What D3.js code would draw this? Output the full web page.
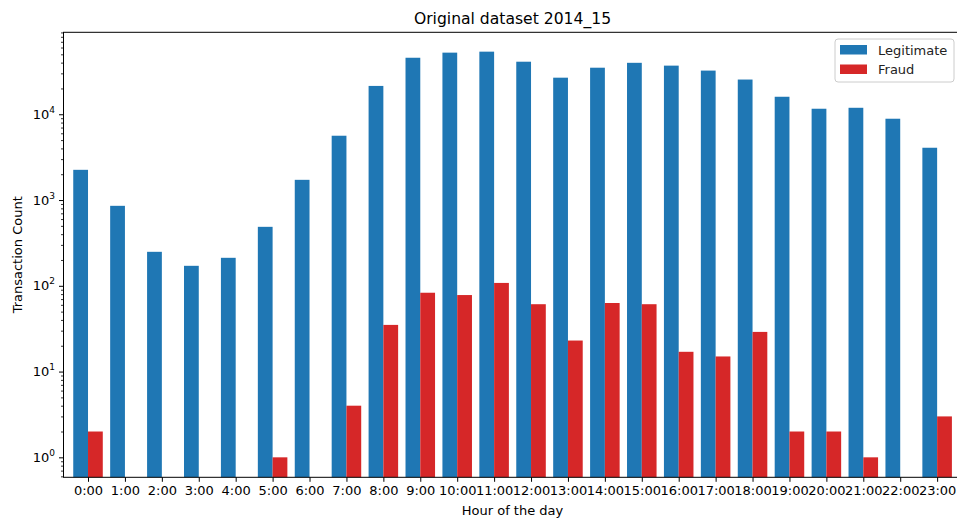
<!DOCTYPE html>
<html>
<head>
<meta charset="utf-8">
<script src="https://cdn.jsdelivr.net/npm/d3@7"></script>
<style>
  body { margin: 0; background: #fff; }
  svg { font-family: "DejaVu Sans", sans-serif; display: block; }
</style>
</head>
<body>
<div id="chart"></div>
<script>
// hours of the day
let hours = d3.range(24).map(h => h + ":00")
// counts
let legitimate = [2250, 856, 249, 171, 212, 487, 1720, 5620, 21400, 45600, 52300, 53700,
                  41000, 26700, 34900, 39800, 36900, 32300, 25400, 16000, 11600, 11900, 8870, 4070]
let fraud = [2, 0, 0, 0, 0, 1, 0, 4, 35, 83, 78, 108,
             61, 23, 63, 61, 17, 15, 29, 2, 2, 1, 0, 3]
let seriesNames = ["Legitimate", "Fraud"]
let seriesColors = ["#1f77b4", "#d62728"]
let yMajor = [1, 10, 100, 1000, 10000]

// note: "top" is taken by window.top, so plot edges get their own names
const W = 957, H = 520
const plotL = 63.5, plotR = 961.5, plotT = 32.3, plotB = 477.3

var svg = d3.select("#chart")
    .append("svg")
        .attr("width", W)
        .attr("height", H)

let xScale = d3.scaleLinear()
    .domain([-0.664, 23.66])
    .range([plotL, plotR])

let yScale = d3.scaleLog()
    .domain([0.585, 90300])
    .range([plotB, plotT])

let barW = 0.4

// legitimate bars
svg.append("g").selectAll("rect")
    .data(legitimate)
    .enter()
    .append("rect")
        .attr("x", (d, i) => xScale(i - barW))
        .attr("width", xScale(barW) - xScale(0))
        .attr("y", d => yScale(d))
        .attr("height", d => plotB - yScale(d))
        .attr("fill", seriesColors[0])

// fraud bars (zero counts are not drawn on log scale)
svg.append("g").selectAll("rect")
    .data(fraud.map((v, i) => ({v: v, i: i})).filter(d => d.v > 0))
    .enter()
    .append("rect")
        .attr("x", d => xScale(d.i))
        .attr("width", xScale(barW) - xScale(0))
        .attr("y", d => yScale(d.v))
        .attr("height", d => plotB - yScale(d.v))
        .attr("fill", seriesColors[1])

// x axis
let xAxis = svg.append("g")
    .attr("transform", `translate(0,${plotB})`)
    .call(d3.axisBottom(xScale)
        .tickValues(d3.range(24))
        .tickFormat(i => hours[i])
        .tickSize(4.5)
        .tickPadding(4))
xAxis.select(".domain").remove()
xAxis.selectAll("line").attr("stroke", "#000").attr("stroke-width", 1)
xAxis.selectAll("text").attr("font-size", 13).attr("fill", "#000")
    .attr("font-family", "DejaVu Sans")

// y minor ticks
let minors = []
for (let e = -1; e <= 4; e++) {
    for (let m = 2; m <= 9; m++) {
        let v = m * Math.pow(10, e)
        if (v >= 0.585 && v <= 90300) minors.push(v)
    }
}
let yMinor = svg.append("g")
    .attr("transform", `translate(${plotL},0)`)
    .call(d3.axisLeft(yScale).tickValues(minors).tickFormat("").tickSize(2.5))
yMinor.select(".domain").remove()
yMinor.selectAll("line").attr("stroke", "#000").attr("stroke-width", 0.8)

// y major ticks
let yAxis = svg.append("g")
    .attr("transform", `translate(${plotL},0)`)
    .call(d3.axisLeft(yScale).tickValues(yMajor).tickSize(4.5).tickPadding(4))
yAxis.select(".domain").remove()
yAxis.selectAll("line").attr("stroke", "#000").attr("stroke-width", 1)
yAxis.selectAll("text")
    .attr("font-size", 13)
    .attr("fill", "#000")
    .attr("font-family", "DejaVu Sans")
    .text(null)
    .each(function(d) {
        let t = d3.select(this)
        t.append("tspan").text("10")
        t.append("tspan").attr("font-size", 9).attr("dy", -6)
            .text(Math.round(Math.log10(d)))
    })

// spines
svg.append("rect")
    .attr("x", plotL)
    .attr("y", plotT)
    .attr("width", plotR - plotL)
    .attr("height", plotB - plotT)
    .attr("fill", "none")
    .attr("stroke", "#000")
    .attr("stroke-width", 1)

// title and labels
svg.append("text")
    .attr("x", (plotL + plotR) / 2)
    .attr("y", 24)
    .attr("text-anchor", "middle")
    .attr("font-size", 15.6)
    .text("Original dataset 2014_15")

svg.append("text")
    .attr("x", (plotL + plotR) / 2)
    .attr("y", 515)
    .attr("text-anchor", "middle")
    .attr("font-size", 13)
    .text("Hour of the day")

svg.append("text")
    .attr("transform", `translate(22,${(plotT + plotB) / 2}) rotate(-90)`)
    .attr("text-anchor", "middle")
    .attr("font-size", 13)
    .text("Transaction Count")

// legend
let legend = svg.append("g")
legend.append("rect")
    .attr("x", 835)
    .attr("y", 39)
    .attr("width", 119)
    .attr("height", 43)
    .attr("rx", 3)
    .attr("fill", "#fff")
    .attr("fill-opacity", 0.8)
    .attr("stroke", "#ccc")

let items = legend.selectAll("g.item")
    .data(seriesNames)
    .enter()
    .append("g")
        .attr("transform", (d, i) => `translate(840,${45 + i * 19.5})`)

items.append("rect")
    .attr("width", 27)
    .attr("height", 9.5)
    .attr("fill", (d, i) => seriesColors[i])

items.append("text")
    .attr("x", 38)
    .attr("y", 9.5)
    .attr("font-size", 13)
    .attr("fill", "#222")
    .text(d => d)
</script>
</body>
</html>
